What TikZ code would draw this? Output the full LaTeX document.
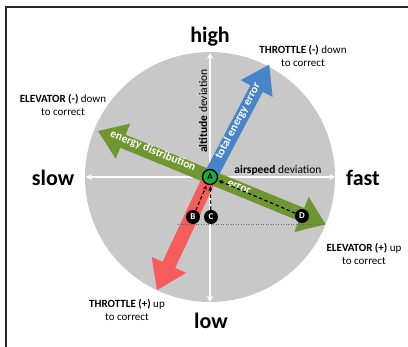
\documentclass[tikz,border=0pt]{standalone}
\usepackage{fontspec}
\setmainfont{Carlito}
\usetikzlibrary{arrows.meta}
\definecolor{discgray}{RGB}{200,200,200}
\definecolor{tebblue}{RGB}{72,132,200}
\definecolor{edgreen}{RGB}{112,150,52}
\definecolor{thred}{RGB}{246,92,92}
\definecolor{agreen}{RGB}{34,168,64}
\definecolor{framegray}{RGB}{40,40,40}
\tikzset{
  axis/.style={draw=white, line width=1.8pt, {Stealth[length=6pt,width=6pt]}-{Stealth[length=6pt,width=6pt]}},
  bigword/.style={font=\fontsize{22}{25}\selectfont\bfseries, inner sep=0pt},
  ctrl/.style={font=\fontsize{11}{13.5}\selectfont, align=center, inner sep=0pt},
  axlabel/.style={font=\fontsize{11.5}{13}\selectfont, inner sep=0pt},
  arrowtext/.style={font=\fontsize{11.5}{13}\selectfont\bfseries, text=white, inner sep=0pt},
  pointA/.style={circle, draw=black, line width=1.3pt, fill=agreen, minimum size=15pt, inner sep=0pt, font=\fontsize{9}{10}\selectfont\bfseries},
  pointX/.style={circle, fill=black, minimum size=14pt, inner sep=0pt, text=white, font=\fontsize{9}{10}\selectfont\bfseries},
  dasharr/.style={draw=black, line width=1.2pt, dash pattern=on 3.5pt off 2.5pt, -{Stealth[length=4.5pt,width=4pt]}, shorten >=1pt}
}
\begin{document}
\begin{tikzpicture}[x=1pt,y=-1pt]
\useasboundingbox (0,0) rectangle (408,347);
% frame
\draw[framegray, line width=1.4pt] (6,347) -- (6,7) -- (408,7);
% disc
\fill[discgray] (210,177) circle (125);
% axes
\coordinate (top) at (210,53);
\coordinate (bot) at (210,302);
\coordinate (lft) at (86,177);
\coordinate (rgt) at (335,177);
\draw[axis] (bot) -- (top);
\draw[axis] (lft) -- (rgt);
% green double arrow (energy distribution error)
\begin{scope}[shift={(98,131)}, rotate=-22.3]
\fill[edgreen] (0,0) -- (27,-19) -- (27,-7) -- (220,-7) -- (220,-19) -- (246,0) -- (220,19) -- (220,7) -- (27,7) -- (27,19) -- cycle;
\end{scope}
% blue arrow (total energy error)
\begin{scope}[shift={(210,177)}, rotate=62.2]
\fill[tebblue] (0,-7) -- (100,-7) -- (100,-18) -- (127,0) -- (100,18) -- (100,7) -- (0,7) -- cycle;
\end{scope}
% red arrow
\begin{scope}[shift={(210,177)}, rotate=-115.1]
\fill[thred] (0,-7) -- (97,-7) -- (97,-19) -- (125,0) -- (97,19) -- (97,7) -- (0,7) -- cycle;
\end{scope}
% dotted guide
\coordinate (g1) at (178,224);
\coordinate (g2) at (324,224);
\draw[black!60, line width=0.5pt, dotted] (g1) -- (g2);
% arrow texts
\node[arrowtext, rotate=-22.3] (ed) at (153,151) {energy distribution};
\node[arrowtext, rotate=-22.3] (er) at (239,187) {error};
\node[arrowtext, rotate=62.2] (te) at (238,121) {total energy error};
% axis texts
\node[axlabel, rotate=90] (alt) at (203,111) {\textbf{altitude} deviation};
\node[axlabel] (asp) at (278,170) {\textbf{airspeed} deviation};
% big words
\node[bigword] (high) at (210,37) {high};
\node[bigword] (low) at (211,321) {low};
\node[bigword] (slow) at (53,178) {slow};
\node[bigword] (fast) at (363,178) {fast};
% control labels
\node[ctrl] (thm) at (303,56) {\textbf{THROTTLE (-)} down\\to correct};
\node[ctrl] (elm) at (63,105) {\textbf{ELEVATOR (-)} down\\to correct};
\node[ctrl] (elp) at (364,254) {\textbf{ELEVATOR (+)} up\\to correct};
\node[ctrl] (thp) at (127,310) {\textbf{THROTTLE (+)} up\\to correct};
% points
\node[pointX] (B) at (193,217) {B};
\node[pointX] (C) at (211,217) {C};
\node[pointX] (D) at (302,216) {D};
\node[pointA] (A) at (210,177) {A};
\draw[dasharr] (B) -- (A);
\draw[dasharr] (C) -- (A);
\draw[dasharr] (D) -- (A);
\end{tikzpicture}
\end{document}
